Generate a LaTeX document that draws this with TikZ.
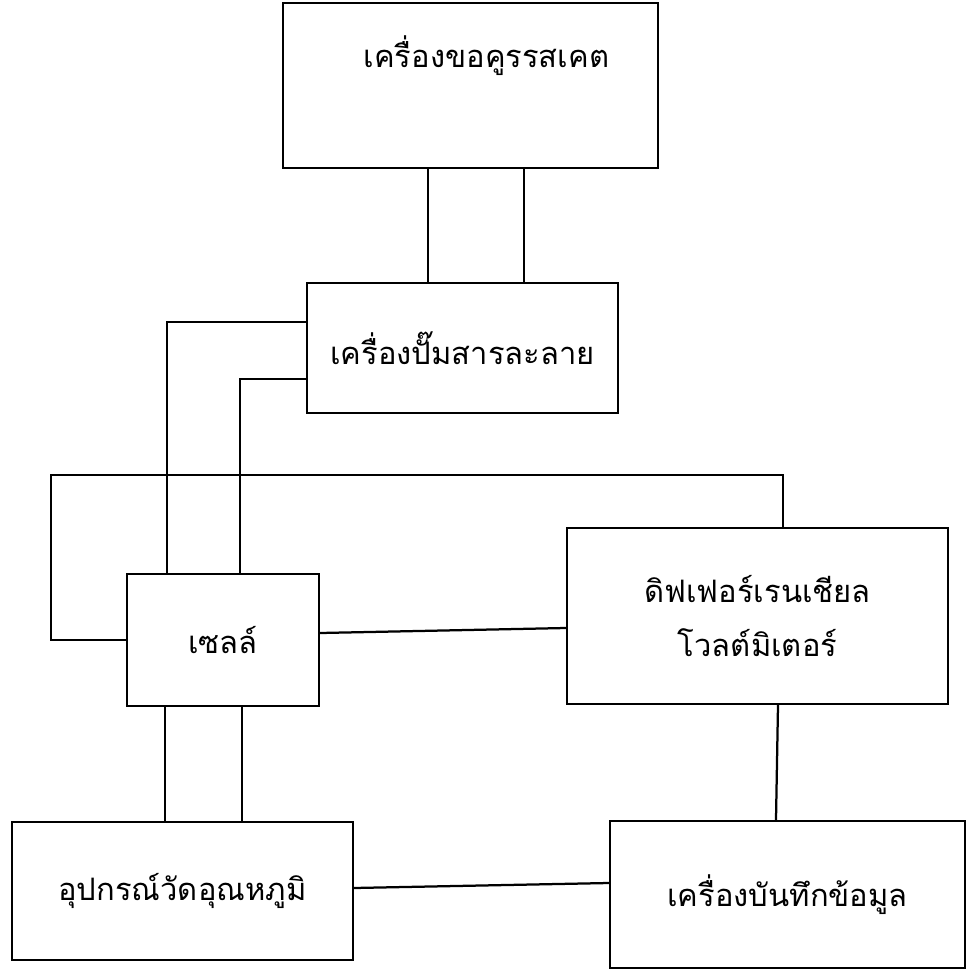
\documentclass[tikz,border=0pt]{standalone}
\usepackage{fontspec}
\newfontfamily\thaifont[Script=Thai]{Loma}
\usetikzlibrary{positioning}

\begin{document}
\begin{tikzpicture}
\tikzset{unitbox/.style={rectangle,draw,line width=1.6pt,inner sep=0pt,align=center,font=\thaifont\fontsize{22}{38}\selectfont},
  lbl/.style={font=\thaifont\fontsize{22}{38}\selectfont}}
\useasboundingbox (0,0) rectangle (24.275,-24.3);
\node[unitbox,minimum width=9.375cm,minimum height=4.125cm,
  label={[lbl,xshift=4mm,yshift=7.4mm]center:เครื่องขอคูรรสเคต}](t) at (11.76,-2.14){};
\node[unitbox,minimum width=7.775cm,minimum height=3.25cm](p) at (11.56,-8.7){เครื่องปั๊มสารละลาย};
\node[unitbox,minimum width=4.8cm,minimum height=3.3cm](c) at (5.575,-16){เซลล์};
\node[unitbox,minimum width=9.525cm,minimum height=4.4cm](d) at (18.94,-15.4){ดิฟเฟอร์เรนเชียล\\โวลต์มิเตอร์};
\node[unitbox,minimum width=8.525cm,minimum height=3.45cm](m) at (4.56,-22.28){อุปกรณ์วัดอุณหภูมิ};
\node[unitbox,minimum width=8.875cm,minimum height=3.675cm](r) at (19.69,-22.36){เครื่องบันทึกข้อมูล};
\begin{scope}[line width=1.6pt]
\draw (10.7,0 |- t.south) -- (10.7,0 |- p.north);
\draw (13.1,0 |- t.south) -- (13.1,0 |- p.north);
\draw (p.west |- 0,-8.05) -| (4.175,0 |- c.north);
\draw (p.west |- 0,-9.475) -| (6,0 |- c.north);
\coordinate (k) at (1.275,-11.875);
\draw (c.west) -| (k) -| (19.575,0 |- d.north);
\draw (c.east |- 0,-15.825) -- (d.west |- 0,-15.7);
\draw (4.125,0 |- c.south) -- (4.125,0 |- m.north);
\draw (6.05,0 |- c.south) -- (6.05,0 |- m.north);
\draw (19.45,0 |- d.south) -- (19.4,0 |- r.north);
\draw (m.east |- 0,-22.2) -- (r.west |- 0,-22.075);
\end{scope}
\end{tikzpicture}
\end{document}
